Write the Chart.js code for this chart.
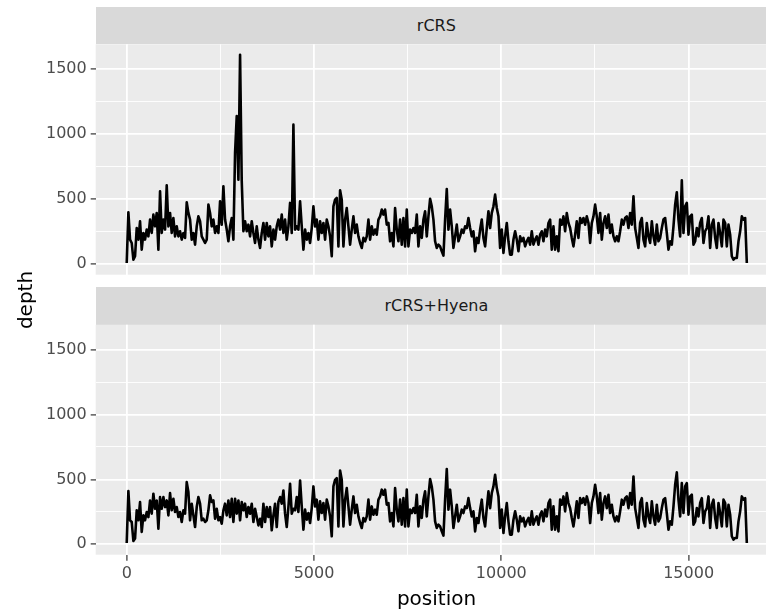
<!DOCTYPE html>
<html>
<head>
<meta charset="utf-8">
<script src="https://cdn.jsdelivr.net/npm/chart.js@4.4.1/dist/chart.umd.min.js"></script>
<style>
html, body { margin: 0; padding: 0; background: #ffffff; width: 766px; height: 612px; overflow: hidden; position: relative; font-family: "DejaVu Sans", sans-serif; }
.strip { position: absolute; left: 95.7px; width: 681.3px; height: 37px; background: #D9D9D9; color: #1A1A1A; font-size: 16px; line-height: 37px; text-align: center; white-space: nowrap; }
canvas { position: absolute; left: 0; }
.title { position: absolute; color: #000000; font-size: 20px; line-height: 20px; white-space: nowrap; text-align: center; }
</style>
</head>
<body>
<div class="strip" style="top:7.3px;">rCRS</div>
<div class="strip" style="top:286.7px;height:38px;line-height:38px;">rCRS+Hyena</div>
<canvas id="c1" width="766" height="300" style="top:0px;width:766px;height:300px;"></canvas>
<canvas id="c2" width="766" height="332" style="top:280px;width:766px;height:332px;"></canvas>
<div class="title" style="left:336.5px;top:588px;width:200px;">position</div>
<div class="title" style="left:-25.4px;top:290px;width:100px;transform:rotate(-90deg);">depth</div>
<script>
// ---- data ----
const panelNames = ["rCRS", "rCRS+Hyena"];
const binSize = 44.5;            // genome positions between successive samples
const genomeLength = 16569;

const depthRCRS = [
10,400,190,164,36,62,279,190,331,113,
241,190,267,215,344,241,382,292,395,113,
562,241,344,267,608,292,395,241,356,215,
292,215,254,190,241,203,477,395,344,190,
241,151,292,369,331,215,190,164,190,459,
395,292,344,241,292,241,485,305,600,344,
267,177,292,356,190,860,1140,650,1612,640,
254,331,254,305,215,331,241,164,292,190,
126,241,318,190,318,215,292,138,267,190,
292,344,267,382,241,344,190,292,472,241,
1074,267,292,267,485,292,113,267,190,241,
164,279,446,292,344,190,331,241,318,190,
344,292,215,62,446,497,
510,138,569,497,138,344,433,292,151,267,
369,241,305,215,164,126,203,177,215,344,
190,292,228,267,228,344,369,421,382,421,
305,318,177,241,138,433,267,177,344,151,
356,138,421,138,267,241,279,241,382,138,
292,203,344,408,215,369,503,446,344,177,
126,151,138,100,67,344,579,267,421,292,
126,215,305,177,215,267,241,292,279,356,
279,215,254,100,203,164,267,344,203,138,
279,408,279,395,446,536,433,369,126,267,
87,215,318,177,74,74,190,254,190,100,
215,177,203,138,177,203,151,254,151,190,
215,151,228,254,177,267,215,318,344,
113,292,113,215,100,344,305,369,254,395,
318,279,203,138,228,331,203,356,318,356,
305,369,318,164,318,369,459,369,241,395,
190,318,369,279,382,241,305,215,177,215,
177,254,344,305,356,369,279,395,305,523,
279,203,126,318,356,190,138,318,215,164,
331,215,151,305,177,203,279,344,356,241,
113,177,151,292,459,554,344,215,646,241,
446,472,228,369,382,151,177,279,215,318,
356,164,254,279,369,126,305,344,203,126,
318,241,138,344,318,138,305,228,62,36,
49,49,177,254,369,344,356,10
];

const depthHyena = [
10,410,185,172,26,44,262,185,326,95,
223,185,249,210,338,236,390,274,338,121,
364,274,364,287,338,223,395,262,351,249,
287,210,249,172,262,236,479,403,185,313,
223,133,287,364,313,185,197,172,185,262,
377,326,338,197,274,185,210,159,262,313,
223,338,210,351,172,351,236,338,185,326,
262,313,210,287,236,313,172,274,210,146,
197,133,313,172,287,210,287,108,223,313,
133,326,364,313,415,236,133,287,467,236,
274,262,364,249,492,292,113,267,190,241,
164,279,446,292,344,190,331,241,318,190,
344,292,215,62,446,497,
510,138,569,497,138,344,433,292,151,267,
369,241,305,215,164,126,203,177,215,344,
190,292,228,267,228,344,369,421,382,421,
305,318,177,241,138,433,267,177,344,151,
356,138,421,138,267,241,279,241,382,138,
292,203,344,408,215,369,503,446,344,177,
126,151,138,100,67,344,579,267,421,292,
126,215,305,177,215,267,241,292,279,356,
279,215,254,100,203,164,267,344,203,138,
279,408,279,395,446,536,433,369,126,267,
87,215,318,177,74,74,190,254,190,100,
215,177,203,138,177,203,151,254,151,190,
215,151,228,254,177,267,215,318,344,
113,292,113,215,100,344,305,369,254,395,
318,279,203,138,228,331,203,356,318,356,
305,369,318,164,318,369,459,369,241,395,
190,318,369,279,382,241,305,215,177,215,
177,254,344,305,356,369,279,395,305,523,
279,203,126,318,356,190,138,318,215,164,
331,215,151,305,177,203,279,344,356,241,
113,177,151,292,459,554,344,215,472,241,
446,472,228,369,382,151,177,279,215,318,
356,164,254,279,369,126,305,344,203,126,
318,241,138,344,318,138,305,228,62,36,
49,49,177,254,369,344,356,10
];

const xMajorTicks = [0, 5000, 10000, 15000];
const xMinorTicks = [2500, 7500, 12500];
const yMajorTicks = [0, 500, 1000, 1500];
const yMinorTicks = [250, 750, 1250];
const xRange = [-828, 17066];
const yRange = [-80, 1692];

// positions of the samples along the genome
const positions = depthRCRS.map((_, i) => Math.min(i * binSize, genomeLength));

// ---- chart setup ----
Chart.defaults.font.family = "'DejaVu Sans', sans-serif";
Chart.defaults.font.size = 16;

const panelBg = {
  id: 'panelBg',
  beforeDraw(chart) {
    const { ctx, chartArea: a } = chart;
    ctx.save();
    ctx.fillStyle = '#EBEBEB';
    ctx.fillRect(a.left, a.top, a.right - a.left, a.bottom - a.top);
    ctx.restore();
  }
};

function isMajor(list, v) { return list.indexOf(v) !== -1; }

function makePanel(canvasId, name, values, showX, padTop, padBottom, xAxisHeight) {
  const ctx = document.getElementById(canvasId);
  return new Chart(ctx, {
    type: 'line',
    data: {
      datasets: [{
        label: name,
        data: values.map((v, i) => ({ x: positions[i], y: v })),
        borderColor: '#000000',
        borderWidth: 2.6,
        pointRadius: 0,
        fill: false,
        tension: 0,
        borderJoinStyle: 'round'
      }]
    },
    options: {
      responsive: false,
      animation: false,
      events: [],
      layout: { autoPadding: false, padding: { left: 0, right: 0, top: padTop, bottom: padBottom } },
      plugins: { legend: { display: false }, tooltip: { enabled: false }, title: { display: false } },
      scales: {
        x: {
          type: 'linear',
          min: xRange[0],
          max: xRange[1],
          border: { display: false },
          grid: {
            color: '#FFFFFF',
            lineWidth: (c) => (c.tick && isMajor(xMajorTicks, c.tick.value)) ? 1.8 : 0.9,
            drawTicks: showX,
            tickLength: 6,
            tickWidth: 1.2,
            tickColor: (c) => (c.tick && isMajor(xMajorTicks, c.tick.value)) ? '#333333' : 'rgba(0,0,0,0)'
          },
          ticks: {
            display: showX,
            autoSkip: false,
            maxRotation: 0,
            padding: 4,
            color: '#4D4D4D',
            font: { size: 16 },
            callback: (v) => isMajor(xMajorTicks, v) ? String(v) : ''
          },
          afterBuildTicks: (s) => { s.ticks = xMajorTicks.concat(xMinorTicks).sort((a, b) => a - b).map(v => ({ value: v })); },
          afterFit: (s) => { s.height = xAxisHeight; s.paddingLeft = 0; s.paddingRight = 0; s.paddingTop = 0; s.paddingBottom = 0; }
        },
        y: {
          type: 'linear',
          min: yRange[0],
          max: yRange[1],
          border: { display: false },
          grid: {
            color: '#FFFFFF',
            lineWidth: (c) => (c.tick && isMajor(yMajorTicks, c.tick.value)) ? 1.8 : 0.9,
            drawTicks: true,
            tickLength: 5,
            tickWidth: 1.2,
            tickColor: (c) => (c.tick && isMajor(yMajorTicks, c.tick.value)) ? '#333333' : 'rgba(0,0,0,0)'
          },
          ticks: {
            autoSkip: false,
            padding: 4,
            color: '#4D4D4D',
            font: { size: 16 },
            callback: (v) => isMajor(yMajorTicks, v) ? String(v) : ''
          },
          afterBuildTicks: (s) => { s.ticks = yMajorTicks.concat(yMinorTicks).sort((a, b) => a - b).map(v => ({ value: v })); },
          afterFit: (s) => { s.width = 95.7; s.paddingTop = 0; s.paddingBottom = 0; s.paddingLeft = 0; s.paddingRight = 0; }
        }
      }
    },
    plugins: [panelBg]
  });
}

makePanel('c1', panelNames[0], depthRCRS, false, 44.3, 25.3, 0);
makePanel('c2', panelNames[1], depthHyena, true, 44.7, 0, 57.3);
</script>
</body>
</html>
